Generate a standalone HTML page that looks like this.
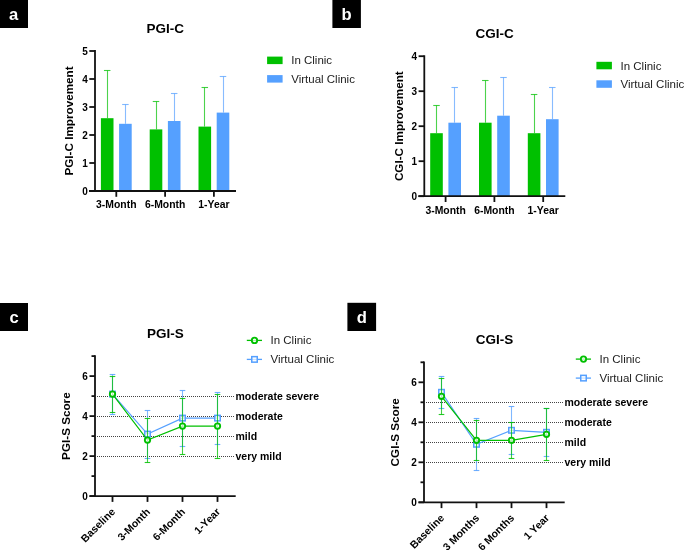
<!DOCTYPE html>
<html><head><meta charset="utf-8"><style>
html,body{margin:0;padding:0;background:#fff;width:685px;height:550px;overflow:hidden}
svg{display:block;will-change:transform}
text{font-family:"Liberation Sans", sans-serif}
</style></head><body>
<svg width="685" height="550" viewBox="0 0 685 550">
<rect x="0" y="0" width="28" height="28" fill="#000"/>
<text x="13.5" y="20" text-anchor="middle" font-size="16.6" font-weight="bold" fill="#fff">a</text>
<rect x="332.4" y="0" width="28.5" height="28" fill="#000"/>
<text x="346.65" y="20" text-anchor="middle" font-size="16.6" font-weight="bold" fill="#fff">b</text>
<rect x="0" y="303" width="28" height="28" fill="#000"/>
<text x="14.0" y="323" text-anchor="middle" font-size="16.6" font-weight="bold" fill="#fff">c</text>
<rect x="347.4" y="302.8" width="28.7" height="28.2" fill="#000"/>
<text x="361.75" y="322.8" text-anchor="middle" font-size="16.6" font-weight="bold" fill="#fff">d</text>
<text x="165.3" y="33" text-anchor="middle" font-size="13.5" font-weight="bold">PGI-C</text>
<rect x="100.90" y="118.20" width="12.6" height="72.80" fill="#00C000"/>
<line x1="107.50" y1="118.20" x2="107.50" y2="70.50" stroke="#00C000" stroke-opacity="0.7" stroke-width="1.1"/>
<line x1="103.95" y1="70.50" x2="110.45" y2="70.50" stroke="#00C000" stroke-opacity="0.75" stroke-width="1.1"/>
<rect x="119.10" y="123.80" width="12.6" height="67.20" fill="#55A0FF"/>
<line x1="125.50" y1="123.80" x2="125.50" y2="104.50" stroke="#55A0FF" stroke-opacity="0.7" stroke-width="1.1"/>
<line x1="122.15" y1="104.50" x2="128.65" y2="104.50" stroke="#55A0FF" stroke-opacity="0.75" stroke-width="1.1"/>
<line x1="116.3" y1="191" x2="116.3" y2="196.8" stroke="#111" stroke-width="1.8"/>
<text x="116.3" y="208" text-anchor="middle" font-size="10.4" font-weight="bold">3-Month</text>
<rect x="149.70" y="129.40" width="12.6" height="61.60" fill="#00C000"/>
<line x1="156.50" y1="129.40" x2="156.50" y2="101.50" stroke="#00C000" stroke-opacity="0.7" stroke-width="1.1"/>
<line x1="152.75" y1="101.50" x2="159.25" y2="101.50" stroke="#00C000" stroke-opacity="0.75" stroke-width="1.1"/>
<rect x="167.90" y="121.00" width="12.6" height="70.00" fill="#55A0FF"/>
<line x1="174.50" y1="121.00" x2="174.50" y2="93.50" stroke="#55A0FF" stroke-opacity="0.7" stroke-width="1.1"/>
<line x1="170.95" y1="93.50" x2="177.45" y2="93.50" stroke="#55A0FF" stroke-opacity="0.75" stroke-width="1.1"/>
<line x1="165.1" y1="191" x2="165.1" y2="196.8" stroke="#111" stroke-width="1.8"/>
<text x="165.1" y="208" text-anchor="middle" font-size="10.4" font-weight="bold">6-Month</text>
<rect x="198.50" y="126.60" width="12.6" height="64.40" fill="#00C000"/>
<line x1="204.50" y1="126.60" x2="204.50" y2="87.50" stroke="#00C000" stroke-opacity="0.7" stroke-width="1.1"/>
<line x1="201.55" y1="87.50" x2="208.05" y2="87.50" stroke="#00C000" stroke-opacity="0.75" stroke-width="1.1"/>
<rect x="216.70" y="112.60" width="12.6" height="78.40" fill="#55A0FF"/>
<line x1="223.50" y1="112.60" x2="223.50" y2="76.50" stroke="#55A0FF" stroke-opacity="0.7" stroke-width="1.1"/>
<line x1="219.75" y1="76.50" x2="226.25" y2="76.50" stroke="#55A0FF" stroke-opacity="0.75" stroke-width="1.1"/>
<line x1="213.9" y1="191" x2="213.9" y2="196.8" stroke="#111" stroke-width="1.8"/>
<text x="213.9" y="208" text-anchor="middle" font-size="10.4" font-weight="bold">1-Year</text>
<line x1="95" y1="50.1" x2="95" y2="191" stroke="#111" stroke-width="1.8"/>
<line x1="89" y1="191" x2="236" y2="191" stroke="#111" stroke-width="1.8"/>
<line x1="89.3" y1="191.00" x2="95" y2="191.00" stroke="#111" stroke-width="1.8"/>
<text x="87.8" y="194.60" text-anchor="end" font-size="10" font-weight="bold">0</text>
<line x1="89.3" y1="163.00" x2="95" y2="163.00" stroke="#111" stroke-width="1.8"/>
<text x="87.8" y="166.60" text-anchor="end" font-size="10" font-weight="bold">1</text>
<line x1="89.3" y1="135.00" x2="95" y2="135.00" stroke="#111" stroke-width="1.8"/>
<text x="87.8" y="138.60" text-anchor="end" font-size="10" font-weight="bold">2</text>
<line x1="89.3" y1="107.00" x2="95" y2="107.00" stroke="#111" stroke-width="1.8"/>
<text x="87.8" y="110.60" text-anchor="end" font-size="10" font-weight="bold">3</text>
<line x1="89.3" y1="79.00" x2="95" y2="79.00" stroke="#111" stroke-width="1.8"/>
<text x="87.8" y="82.60" text-anchor="end" font-size="10" font-weight="bold">4</text>
<line x1="89.3" y1="51.00" x2="95" y2="51.00" stroke="#111" stroke-width="1.8"/>
<text x="87.8" y="54.60" text-anchor="end" font-size="10" font-weight="bold">5</text>
<text transform="translate(73.3,121.00) rotate(-90)" text-anchor="middle" font-size="11.7" font-weight="bold">PGI-C Improvement</text>
<rect x="267.1" y="56.6" width="15.5" height="7.5" fill="#00C000"/>
<rect x="267.1" y="75.1" width="15.5" height="7.5" fill="#55A0FF"/>
<text x="291.2" y="64.4" font-size="11.5" fill="#222">In Clinic</text>
<text x="291.2" y="82.7" font-size="11.5" fill="#222">Virtual Clinic</text>
<text x="494.6" y="37.900000000000006" text-anchor="middle" font-size="13.5" font-weight="bold">CGI-C</text>
<rect x="430.20" y="133.20" width="12.6" height="63.00" fill="#00C000"/>
<line x1="436.50" y1="133.20" x2="436.50" y2="105.50" stroke="#00C000" stroke-opacity="0.7" stroke-width="1.1"/>
<line x1="433.25" y1="105.50" x2="439.75" y2="105.50" stroke="#00C000" stroke-opacity="0.75" stroke-width="1.1"/>
<rect x="448.40" y="122.70" width="12.6" height="73.50" fill="#55A0FF"/>
<line x1="454.50" y1="122.70" x2="454.50" y2="87.50" stroke="#55A0FF" stroke-opacity="0.7" stroke-width="1.1"/>
<line x1="451.45" y1="87.50" x2="457.95" y2="87.50" stroke="#55A0FF" stroke-opacity="0.75" stroke-width="1.1"/>
<line x1="445.6" y1="196.2" x2="445.6" y2="202.0" stroke="#111" stroke-width="1.8"/>
<text x="445.6" y="213.89999999999998" text-anchor="middle" font-size="10.4" font-weight="bold">3-Month</text>
<rect x="479.00" y="122.70" width="12.6" height="73.50" fill="#00C000"/>
<line x1="485.50" y1="122.70" x2="485.50" y2="80.50" stroke="#00C000" stroke-opacity="0.7" stroke-width="1.1"/>
<line x1="482.05" y1="80.50" x2="488.55" y2="80.50" stroke="#00C000" stroke-opacity="0.75" stroke-width="1.1"/>
<rect x="497.20" y="115.70" width="12.6" height="80.50" fill="#55A0FF"/>
<line x1="503.50" y1="115.70" x2="503.50" y2="77.50" stroke="#55A0FF" stroke-opacity="0.7" stroke-width="1.1"/>
<line x1="500.25" y1="77.50" x2="506.75" y2="77.50" stroke="#55A0FF" stroke-opacity="0.75" stroke-width="1.1"/>
<line x1="494.4" y1="196.2" x2="494.4" y2="202.0" stroke="#111" stroke-width="1.8"/>
<text x="494.4" y="213.89999999999998" text-anchor="middle" font-size="10.4" font-weight="bold">6-Month</text>
<rect x="527.80" y="133.20" width="12.6" height="63.00" fill="#00C000"/>
<line x1="534.50" y1="133.20" x2="534.50" y2="94.50" stroke="#00C000" stroke-opacity="0.7" stroke-width="1.1"/>
<line x1="530.85" y1="94.50" x2="537.35" y2="94.50" stroke="#00C000" stroke-opacity="0.75" stroke-width="1.1"/>
<rect x="546.00" y="119.20" width="12.6" height="77.00" fill="#55A0FF"/>
<line x1="552.50" y1="119.20" x2="552.50" y2="87.50" stroke="#55A0FF" stroke-opacity="0.7" stroke-width="1.1"/>
<line x1="549.05" y1="87.50" x2="555.55" y2="87.50" stroke="#55A0FF" stroke-opacity="0.75" stroke-width="1.1"/>
<line x1="543.2" y1="196.2" x2="543.2" y2="202.0" stroke="#111" stroke-width="1.8"/>
<text x="543.2" y="213.89999999999998" text-anchor="middle" font-size="10.4" font-weight="bold">1-Year</text>
<line x1="424.3" y1="55.29999999999999" x2="424.3" y2="196.2" stroke="#111" stroke-width="1.8"/>
<line x1="418.3" y1="196.2" x2="565.3" y2="196.2" stroke="#111" stroke-width="1.8"/>
<line x1="418.6" y1="196.20" x2="424.3" y2="196.20" stroke="#111" stroke-width="1.8"/>
<text x="417.1" y="199.80" text-anchor="end" font-size="10" font-weight="bold">0</text>
<line x1="418.6" y1="161.20" x2="424.3" y2="161.20" stroke="#111" stroke-width="1.8"/>
<text x="417.1" y="164.80" text-anchor="end" font-size="10" font-weight="bold">1</text>
<line x1="418.6" y1="126.20" x2="424.3" y2="126.20" stroke="#111" stroke-width="1.8"/>
<text x="417.1" y="129.80" text-anchor="end" font-size="10" font-weight="bold">2</text>
<line x1="418.6" y1="91.20" x2="424.3" y2="91.20" stroke="#111" stroke-width="1.8"/>
<text x="417.1" y="94.80" text-anchor="end" font-size="10" font-weight="bold">3</text>
<line x1="418.6" y1="56.20" x2="424.3" y2="56.20" stroke="#111" stroke-width="1.8"/>
<text x="417.1" y="59.80" text-anchor="end" font-size="10" font-weight="bold">4</text>
<text transform="translate(402.6,126.20) rotate(-90)" text-anchor="middle" font-size="11.7" font-weight="bold">CGI-C Improvement</text>
<rect x="596.4000000000001" y="61.800000000000004" width="15.5" height="7.5" fill="#00C000"/>
<rect x="596.4000000000001" y="80.3" width="15.5" height="7.5" fill="#55A0FF"/>
<text x="620.5" y="69.60000000000001" font-size="11.5" fill="#222">In Clinic</text>
<text x="620.5" y="87.9" font-size="11.5" fill="#222">Virtual Clinic</text>
<text x="165.4" y="337.5" text-anchor="middle" font-size="13.5" font-weight="bold">PGI-S</text>
<line x1="97" y1="396.50" x2="234.6" y2="396.50" stroke="#444" stroke-width="1" stroke-dasharray="1,1"/>
<text x="235.5" y="400.1" font-size="10.5" font-weight="bold">moderate severe</text>
<line x1="97" y1="416.50" x2="234.6" y2="416.50" stroke="#444" stroke-width="1" stroke-dasharray="1,1"/>
<text x="235.5" y="420.1" font-size="10.5" font-weight="bold">moderate</text>
<line x1="97" y1="436.50" x2="234.6" y2="436.50" stroke="#444" stroke-width="1" stroke-dasharray="1,1"/>
<text x="235.5" y="440.1" font-size="10.5" font-weight="bold">mild</text>
<line x1="97" y1="456.50" x2="234.6" y2="456.50" stroke="#444" stroke-width="1" stroke-dasharray="1,1"/>
<text x="235.5" y="460.1" font-size="10.5" font-weight="bold">very mild</text>
<line x1="95" y1="355.20000000000005" x2="95" y2="496.1" stroke="#111" stroke-width="1.8"/>
<line x1="89.5" y1="496.1" x2="235.7" y2="496.1" stroke="#111" stroke-width="1.8"/>
<line x1="89.5" y1="496.1" x2="95" y2="496.1" stroke="#111" stroke-width="1.8"/>
<text x="87.8" y="499.70000000000005" text-anchor="end" font-size="10" font-weight="bold">0</text>
<line x1="91.5" y1="476.1" x2="95" y2="476.1" stroke="#111" stroke-width="1.8"/>
<line x1="89.5" y1="456.1" x2="95" y2="456.1" stroke="#111" stroke-width="1.8"/>
<text x="87.8" y="459.70000000000005" text-anchor="end" font-size="10" font-weight="bold">2</text>
<line x1="91.5" y1="436.1" x2="95" y2="436.1" stroke="#111" stroke-width="1.8"/>
<line x1="89.5" y1="416.1" x2="95" y2="416.1" stroke="#111" stroke-width="1.8"/>
<text x="87.8" y="419.70000000000005" text-anchor="end" font-size="10" font-weight="bold">4</text>
<line x1="91.5" y1="396.1" x2="95" y2="396.1" stroke="#111" stroke-width="1.8"/>
<line x1="89.5" y1="376.1" x2="95" y2="376.1" stroke="#111" stroke-width="1.8"/>
<text x="87.8" y="379.70000000000005" text-anchor="end" font-size="10" font-weight="bold">6</text>
<line x1="91.5" y1="356.1" x2="95" y2="356.1" stroke="#111" stroke-width="1.8"/>
<line x1="112.5" y1="496.1" x2="112.5" y2="501.90000000000003" stroke="#111" stroke-width="1.8"/>
<text transform="translate(115.8,512.4) rotate(-45)" text-anchor="end" font-size="10.5" font-weight="bold">Baseline</text>
<line x1="147.5" y1="496.1" x2="147.5" y2="501.90000000000003" stroke="#111" stroke-width="1.8"/>
<text transform="translate(150.8,512.4) rotate(-45)" text-anchor="end" font-size="10.5" font-weight="bold">3-Month</text>
<line x1="182.5" y1="496.1" x2="182.5" y2="501.90000000000003" stroke="#111" stroke-width="1.8"/>
<text transform="translate(185.8,512.4) rotate(-45)" text-anchor="end" font-size="10.5" font-weight="bold">6-Month</text>
<line x1="217.5" y1="496.1" x2="217.5" y2="501.90000000000003" stroke="#111" stroke-width="1.8"/>
<text transform="translate(220.8,512.4) rotate(-45)" text-anchor="end" font-size="10.5" font-weight="bold">1-Year</text>
<text transform="translate(70.3,426.10) rotate(-90)" text-anchor="middle" font-size="11.7" font-weight="bold">PGI-S Score</text>
<line x1="112.5" y1="374.5" x2="112.5" y2="414.5" stroke="#55A0FF" stroke-opacity="0.75" stroke-width="1.1"/>
<line x1="109.7" y1="374.5" x2="115.3" y2="374.5" stroke="#55A0FF" stroke-opacity="0.85" stroke-width="1.1"/>
<line x1="109.7" y1="414.5" x2="115.3" y2="414.5" stroke="#55A0FF" stroke-opacity="0.85" stroke-width="1.1"/>
<line x1="147.5" y1="410.5" x2="147.5" y2="458.5" stroke="#55A0FF" stroke-opacity="0.75" stroke-width="1.1"/>
<line x1="144.7" y1="410.5" x2="150.3" y2="410.5" stroke="#55A0FF" stroke-opacity="0.85" stroke-width="1.1"/>
<line x1="144.7" y1="458.5" x2="150.3" y2="458.5" stroke="#55A0FF" stroke-opacity="0.85" stroke-width="1.1"/>
<line x1="182.5" y1="390.5" x2="182.5" y2="446.5" stroke="#55A0FF" stroke-opacity="0.75" stroke-width="1.1"/>
<line x1="179.7" y1="390.5" x2="185.3" y2="390.5" stroke="#55A0FF" stroke-opacity="0.85" stroke-width="1.1"/>
<line x1="179.7" y1="446.5" x2="185.3" y2="446.5" stroke="#55A0FF" stroke-opacity="0.85" stroke-width="1.1"/>
<line x1="217.5" y1="392.5" x2="217.5" y2="444.5" stroke="#55A0FF" stroke-opacity="0.75" stroke-width="1.1"/>
<line x1="214.7" y1="392.5" x2="220.3" y2="392.5" stroke="#55A0FF" stroke-opacity="0.85" stroke-width="1.1"/>
<line x1="214.7" y1="444.5" x2="220.3" y2="444.5" stroke="#55A0FF" stroke-opacity="0.85" stroke-width="1.1"/>
<polyline points="112.5,394.10 147.5,434.10 182.5,418.10 217.5,418.10" fill="none" stroke="#55A0FF" stroke-width="1.2"/>
<rect x="109.75" y="391.35" width="5.5" height="5.5" fill="#fff" fill-opacity="0.7" stroke="#55A0FF" stroke-width="1.5"/>
<rect x="144.75" y="431.35" width="5.5" height="5.5" fill="#fff" fill-opacity="0.7" stroke="#55A0FF" stroke-width="1.5"/>
<rect x="179.75" y="415.35" width="5.5" height="5.5" fill="#fff" fill-opacity="0.7" stroke="#55A0FF" stroke-width="1.5"/>
<rect x="214.75" y="415.35" width="5.5" height="5.5" fill="#fff" fill-opacity="0.7" stroke="#55A0FF" stroke-width="1.5"/>
<line x1="112.5" y1="376.5" x2="112.5" y2="412.5" stroke="#00C000" stroke-opacity="0.75" stroke-width="1.1"/>
<line x1="109.7" y1="376.5" x2="115.3" y2="376.5" stroke="#00C000" stroke-opacity="0.85" stroke-width="1.1"/>
<line x1="109.7" y1="412.5" x2="115.3" y2="412.5" stroke="#00C000" stroke-opacity="0.85" stroke-width="1.1"/>
<line x1="147.5" y1="418.5" x2="147.5" y2="462.5" stroke="#00C000" stroke-opacity="0.75" stroke-width="1.1"/>
<line x1="144.7" y1="418.5" x2="150.3" y2="418.5" stroke="#00C000" stroke-opacity="0.85" stroke-width="1.1"/>
<line x1="144.7" y1="462.5" x2="150.3" y2="462.5" stroke="#00C000" stroke-opacity="0.85" stroke-width="1.1"/>
<line x1="182.5" y1="398.5" x2="182.5" y2="454.5" stroke="#00C000" stroke-opacity="0.75" stroke-width="1.1"/>
<line x1="179.7" y1="398.5" x2="185.3" y2="398.5" stroke="#00C000" stroke-opacity="0.85" stroke-width="1.1"/>
<line x1="179.7" y1="454.5" x2="185.3" y2="454.5" stroke="#00C000" stroke-opacity="0.85" stroke-width="1.1"/>
<line x1="217.5" y1="394.5" x2="217.5" y2="458.5" stroke="#00C000" stroke-opacity="0.75" stroke-width="1.1"/>
<line x1="214.7" y1="394.5" x2="220.3" y2="394.5" stroke="#00C000" stroke-opacity="0.85" stroke-width="1.1"/>
<line x1="214.7" y1="458.5" x2="220.3" y2="458.5" stroke="#00C000" stroke-opacity="0.85" stroke-width="1.1"/>
<polyline points="112.5,394.10 147.5,440.10 182.5,426.10 217.5,426.10" fill="none" stroke="#00C000" stroke-width="1.2"/>
<circle cx="112.5" cy="394.10" r="2.7" fill="#fff" fill-opacity="0.7" stroke="#00C000" stroke-width="1.85"/>
<circle cx="147.5" cy="440.10" r="2.7" fill="#fff" fill-opacity="0.7" stroke="#00C000" stroke-width="1.85"/>
<circle cx="182.5" cy="426.10" r="2.7" fill="#fff" fill-opacity="0.7" stroke="#00C000" stroke-width="1.85"/>
<circle cx="217.5" cy="426.10" r="2.7" fill="#fff" fill-opacity="0.7" stroke="#00C000" stroke-width="1.85"/>
<line x1="246.8" y1="340.4" x2="262" y2="340.4" stroke="#00C000" stroke-width="1.3"/>
<circle cx="254.5" cy="340.4" r="2.7" fill="#fff" fill-opacity="0.7" stroke="#00C000" stroke-width="1.85"/>
<line x1="246.8" y1="359.4" x2="262" y2="359.4" stroke="#55A0FF" stroke-width="1.3"/>
<rect x="251.75" y="356.65" width="5.5" height="5.5" fill="#fff" fill-opacity="0.7" stroke="#55A0FF" stroke-width="1.5"/>
<text x="270.5" y="344.4" font-size="11.5" fill="#222">In Clinic</text>
<text x="270.5" y="363" font-size="11.5" fill="#222">Virtual Clinic</text>
<text x="494.4" y="343.7" text-anchor="middle" font-size="13.5" font-weight="bold">CGI-S</text>
<line x1="426" y1="402.50" x2="563.6" y2="402.50" stroke="#444" stroke-width="1" stroke-dasharray="1,1"/>
<text x="564.5" y="406.3" font-size="10.5" font-weight="bold">moderate severe</text>
<line x1="426" y1="422.50" x2="563.6" y2="422.50" stroke="#444" stroke-width="1" stroke-dasharray="1,1"/>
<text x="564.5" y="426.3" font-size="10.5" font-weight="bold">moderate</text>
<line x1="426" y1="442.50" x2="563.6" y2="442.50" stroke="#444" stroke-width="1" stroke-dasharray="1,1"/>
<text x="564.5" y="446.3" font-size="10.5" font-weight="bold">mild</text>
<line x1="426" y1="462.50" x2="563.6" y2="462.50" stroke="#444" stroke-width="1" stroke-dasharray="1,1"/>
<text x="564.5" y="466.3" font-size="10.5" font-weight="bold">very mild</text>
<line x1="424" y1="361.40000000000003" x2="424" y2="502.3" stroke="#111" stroke-width="1.8"/>
<line x1="418.5" y1="502.3" x2="564.7" y2="502.3" stroke="#111" stroke-width="1.8"/>
<line x1="418.5" y1="502.3" x2="424" y2="502.3" stroke="#111" stroke-width="1.8"/>
<text x="416.8" y="505.90000000000003" text-anchor="end" font-size="10" font-weight="bold">0</text>
<line x1="420.5" y1="482.3" x2="424" y2="482.3" stroke="#111" stroke-width="1.8"/>
<line x1="418.5" y1="462.3" x2="424" y2="462.3" stroke="#111" stroke-width="1.8"/>
<text x="416.8" y="465.90000000000003" text-anchor="end" font-size="10" font-weight="bold">2</text>
<line x1="420.5" y1="442.3" x2="424" y2="442.3" stroke="#111" stroke-width="1.8"/>
<line x1="418.5" y1="422.3" x2="424" y2="422.3" stroke="#111" stroke-width="1.8"/>
<text x="416.8" y="425.90000000000003" text-anchor="end" font-size="10" font-weight="bold">4</text>
<line x1="420.5" y1="402.3" x2="424" y2="402.3" stroke="#111" stroke-width="1.8"/>
<line x1="418.5" y1="382.3" x2="424" y2="382.3" stroke="#111" stroke-width="1.8"/>
<text x="416.8" y="385.90000000000003" text-anchor="end" font-size="10" font-weight="bold">6</text>
<line x1="420.5" y1="362.3" x2="424" y2="362.3" stroke="#111" stroke-width="1.8"/>
<line x1="441.5" y1="502.3" x2="441.5" y2="508.1" stroke="#111" stroke-width="1.8"/>
<text transform="translate(444.8,518.6) rotate(-45)" text-anchor="end" font-size="10.5" font-weight="bold">Baseline</text>
<line x1="476.5" y1="502.3" x2="476.5" y2="508.1" stroke="#111" stroke-width="1.8"/>
<text transform="translate(479.8,518.6) rotate(-45)" text-anchor="end" font-size="10.5" font-weight="bold">3 Months</text>
<line x1="511.5" y1="502.3" x2="511.5" y2="508.1" stroke="#111" stroke-width="1.8"/>
<text transform="translate(514.8,518.6) rotate(-45)" text-anchor="end" font-size="10.5" font-weight="bold">6 Months</text>
<line x1="546.5" y1="502.3" x2="546.5" y2="508.1" stroke="#111" stroke-width="1.8"/>
<text transform="translate(549.8,518.6) rotate(-45)" text-anchor="end" font-size="10.5" font-weight="bold">1 Year</text>
<text transform="translate(399.3,432.30) rotate(-90)" text-anchor="middle" font-size="11.7" font-weight="bold">CGI-S Score</text>
<line x1="441.5" y1="376.5" x2="441.5" y2="408.5" stroke="#55A0FF" stroke-opacity="0.75" stroke-width="1.1"/>
<line x1="438.7" y1="376.5" x2="444.3" y2="376.5" stroke="#55A0FF" stroke-opacity="0.85" stroke-width="1.1"/>
<line x1="438.7" y1="408.5" x2="444.3" y2="408.5" stroke="#55A0FF" stroke-opacity="0.85" stroke-width="1.1"/>
<line x1="476.5" y1="418.5" x2="476.5" y2="470.5" stroke="#55A0FF" stroke-opacity="0.75" stroke-width="1.1"/>
<line x1="473.7" y1="418.5" x2="479.3" y2="418.5" stroke="#55A0FF" stroke-opacity="0.85" stroke-width="1.1"/>
<line x1="473.7" y1="470.5" x2="479.3" y2="470.5" stroke="#55A0FF" stroke-opacity="0.85" stroke-width="1.1"/>
<line x1="511.5" y1="406.5" x2="511.5" y2="454.5" stroke="#55A0FF" stroke-opacity="0.75" stroke-width="1.1"/>
<line x1="508.7" y1="406.5" x2="514.3" y2="406.5" stroke="#55A0FF" stroke-opacity="0.85" stroke-width="1.1"/>
<line x1="508.7" y1="454.5" x2="514.3" y2="454.5" stroke="#55A0FF" stroke-opacity="0.85" stroke-width="1.1"/>
<line x1="546.5" y1="408.5" x2="546.5" y2="456.5" stroke="#55A0FF" stroke-opacity="0.75" stroke-width="1.1"/>
<line x1="543.7" y1="408.5" x2="549.3" y2="408.5" stroke="#55A0FF" stroke-opacity="0.85" stroke-width="1.1"/>
<line x1="543.7" y1="456.5" x2="549.3" y2="456.5" stroke="#55A0FF" stroke-opacity="0.85" stroke-width="1.1"/>
<polyline points="441.5,392.30 476.5,444.30 511.5,430.30 546.5,432.30" fill="none" stroke="#55A0FF" stroke-width="1.2"/>
<rect x="438.75" y="389.55" width="5.5" height="5.5" fill="#fff" fill-opacity="0.7" stroke="#55A0FF" stroke-width="1.5"/>
<rect x="473.75" y="441.55" width="5.5" height="5.5" fill="#fff" fill-opacity="0.7" stroke="#55A0FF" stroke-width="1.5"/>
<rect x="508.75" y="427.55" width="5.5" height="5.5" fill="#fff" fill-opacity="0.7" stroke="#55A0FF" stroke-width="1.5"/>
<rect x="543.75" y="429.55" width="5.5" height="5.5" fill="#fff" fill-opacity="0.7" stroke="#55A0FF" stroke-width="1.5"/>
<line x1="441.5" y1="378.5" x2="441.5" y2="414.5" stroke="#00C000" stroke-opacity="0.75" stroke-width="1.1"/>
<line x1="438.7" y1="378.5" x2="444.3" y2="378.5" stroke="#00C000" stroke-opacity="0.85" stroke-width="1.1"/>
<line x1="438.7" y1="414.5" x2="444.3" y2="414.5" stroke="#00C000" stroke-opacity="0.85" stroke-width="1.1"/>
<line x1="476.5" y1="420.5" x2="476.5" y2="460.5" stroke="#00C000" stroke-opacity="0.75" stroke-width="1.1"/>
<line x1="473.7" y1="420.5" x2="479.3" y2="420.5" stroke="#00C000" stroke-opacity="0.85" stroke-width="1.1"/>
<line x1="473.7" y1="460.5" x2="479.3" y2="460.5" stroke="#00C000" stroke-opacity="0.85" stroke-width="1.1"/>
<line x1="511.5" y1="422.5" x2="511.5" y2="458.5" stroke="#00C000" stroke-opacity="0.75" stroke-width="1.1"/>
<line x1="508.7" y1="422.5" x2="514.3" y2="422.5" stroke="#00C000" stroke-opacity="0.85" stroke-width="1.1"/>
<line x1="508.7" y1="458.5" x2="514.3" y2="458.5" stroke="#00C000" stroke-opacity="0.85" stroke-width="1.1"/>
<line x1="546.5" y1="408.5" x2="546.5" y2="460.5" stroke="#00C000" stroke-opacity="0.75" stroke-width="1.1"/>
<line x1="543.7" y1="408.5" x2="549.3" y2="408.5" stroke="#00C000" stroke-opacity="0.85" stroke-width="1.1"/>
<line x1="543.7" y1="460.5" x2="549.3" y2="460.5" stroke="#00C000" stroke-opacity="0.85" stroke-width="1.1"/>
<polyline points="441.5,396.30 476.5,440.30 511.5,440.30 546.5,434.30" fill="none" stroke="#00C000" stroke-width="1.2"/>
<circle cx="441.5" cy="396.30" r="2.7" fill="#fff" fill-opacity="0.7" stroke="#00C000" stroke-width="1.85"/>
<circle cx="476.5" cy="440.30" r="2.7" fill="#fff" fill-opacity="0.7" stroke="#00C000" stroke-width="1.85"/>
<circle cx="511.5" cy="440.30" r="2.7" fill="#fff" fill-opacity="0.7" stroke="#00C000" stroke-width="1.85"/>
<circle cx="546.5" cy="434.30" r="2.7" fill="#fff" fill-opacity="0.7" stroke="#00C000" stroke-width="1.85"/>
<line x1="575.8" y1="359.09999999999997" x2="591" y2="359.09999999999997" stroke="#00C000" stroke-width="1.3"/>
<circle cx="583.5" cy="359.09999999999997" r="2.7" fill="#fff" fill-opacity="0.7" stroke="#00C000" stroke-width="1.85"/>
<line x1="575.8" y1="378.09999999999997" x2="591" y2="378.09999999999997" stroke="#55A0FF" stroke-width="1.3"/>
<rect x="580.75" y="375.34999999999997" width="5.5" height="5.5" fill="#fff" fill-opacity="0.7" stroke="#55A0FF" stroke-width="1.5"/>
<text x="599.5" y="363.09999999999997" font-size="11.5" fill="#222">In Clinic</text>
<text x="599.5" y="381.7" font-size="11.5" fill="#222">Virtual Clinic</text>
</svg>
</body></html>
